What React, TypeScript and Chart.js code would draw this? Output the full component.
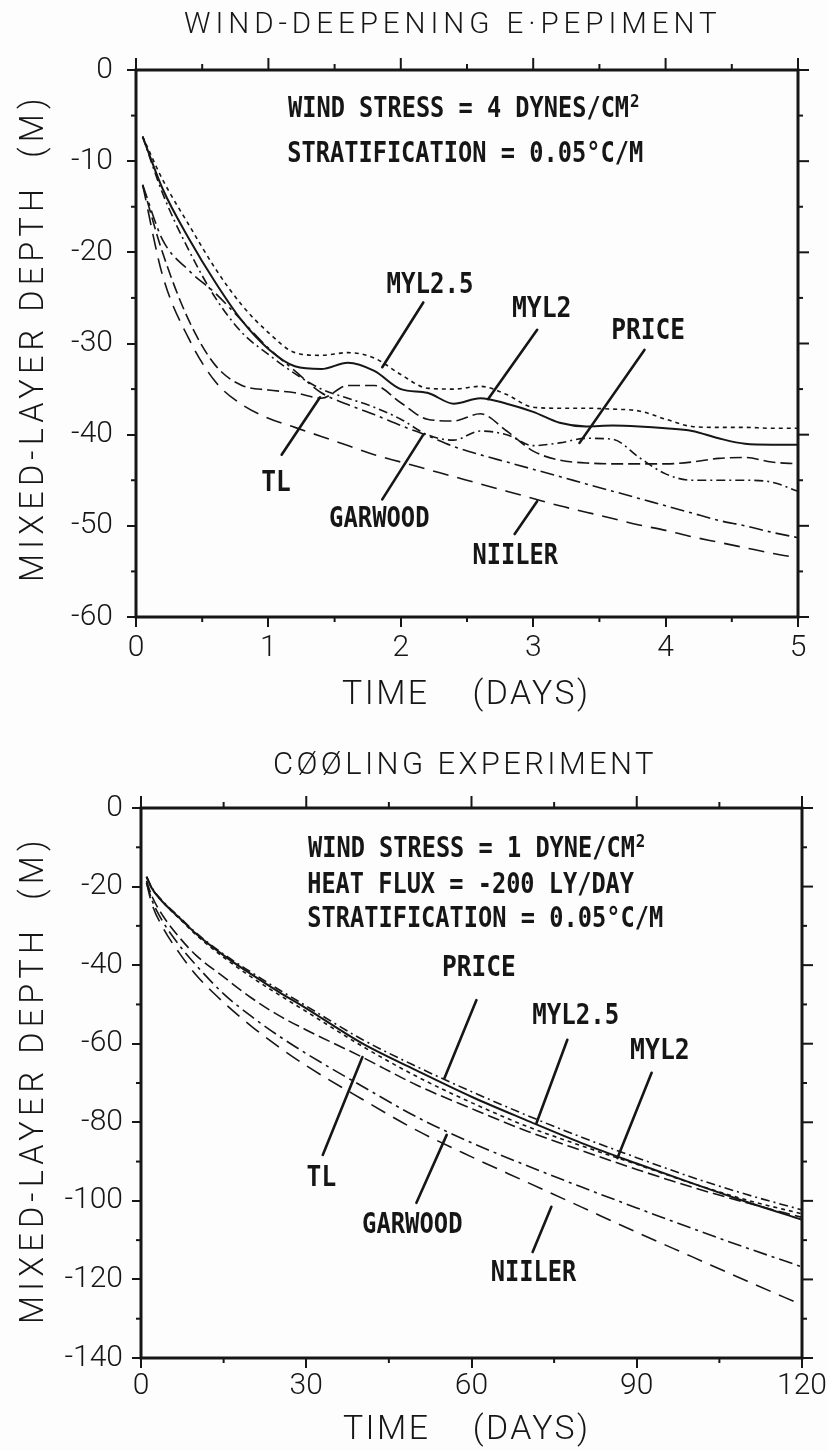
import React, { useEffect, useRef } from 'react';
import { Chart, registerables } from 'chart.js';

Chart.register(...registerables);

// ---------------- DATA: wind-deepening experiment ----------------
const windDays = [0.05, 0.2, 0.4, 0.6, 0.8, 1.0, 1.2, 1.4, 1.6, 1.8, 2.0, 2.2, 2.4, 2.6, 2.8, 3.0, 3.2, 3.4, 3.6, 3.8, 4.0, 4.2, 4.4, 4.6, 4.8, 5.0];
const windMYL25 = [-7.3, -12.0, -17.0, -21.8, -25.8, -28.8, -31.0, -31.3, -31.0, -31.6, -33.4, -34.9, -35.0, -34.7, -35.6, -37.0, -37.1, -37.1, -37.2, -37.4, -38.3, -39.1, -39.2, -39.2, -39.3, -39.3];
const windMYL2 = [-7.3, -13.0, -18.5, -23.3, -27.5, -30.6, -32.5, -32.8, -32.1, -33.0, -35.0, -35.4, -36.6, -36.0, -36.6, -37.5, -38.7, -39.1, -39.0, -39.1, -39.3, -39.6, -40.4, -41.0, -41.1, -41.1];
const windPRICE = [-7.3, -13.5, -19.8, -25.0, -28.8, -31.2, -33.3, -35.0, -36.0, -37.0, -38.3, -40.0, -40.6, -39.6, -40.0, -41.2, -40.9, -40.4, -40.5, -42.5, -44.3, -45.0, -45.0, -45.0, -45.2, -46.2];
const windTL = [-12.6, -20.0, -27.5, -32.4, -34.6, -35.1, -35.4, -36.0, -34.6, -34.6, -36.5, -38.3, -38.5, -37.7, -39.6, -41.8, -42.8, -43.1, -43.2, -43.2, -43.2, -43.0, -42.6, -42.5, -43.0, -43.2];
const windGARWOOD = [-12.6, -18.6, -22.0, -24.5, -27.5, -30.5, -33.0, -35.4, -36.7, -37.8, -39.0, -40.1, -41.3, -42.2, -43.0, -43.8, -44.6, -45.4, -46.2, -47.0, -47.8, -48.6, -49.4, -50.0, -50.7, -51.3];
const windNIILER = [-12.6, -22.5, -29.5, -34.2, -36.7, -38.2, -39.2, -40.2, -41.2, -42.2, -43.0, -43.8, -44.6, -45.4, -46.2, -47.0, -47.8, -48.5, -49.2, -49.9, -50.5, -51.2, -51.8, -52.4, -53.0, -53.5];

const windXTicks = [0, 1, 2, 3, 4, 5];
const windXMinor = [0.5, 1.5, 2.5, 3.5, 4.5];
const windYTicks = [0, -10, -20, -30, -40, -50, -60];
const windYMinor = [-5, -15, -25, -35, -45, -55];

// ---------------- DATA: cooling experiment ----------------
const coolDays = [1, 2, 4, 7, 10, 15, 20, 25, 30, 40, 50, 60, 70, 80, 90, 100, 110, 120];
const coolMYL2 = [-17.5, -20.5, -24.0, -28.0, -32.0, -37.5, -42.3, -46.8, -51.0, -59.8, -66.8, -73.5, -79.5, -85.3, -90.5, -95.5, -100.3, -104.8];
const coolMYL25 = [-17.5, -20.5, -24.0, -28.2, -32.3, -38.0, -43.0, -47.5, -51.8, -60.5, -68.3, -75.0, -81.0, -86.0, -90.7, -95.5, -99.8, -103.3];
const coolPRICE = [-17.5, -20.3, -23.8, -27.8, -31.8, -37.2, -41.8, -46.2, -50.4, -58.8, -65.8, -72.2, -78.2, -83.8, -89.0, -94.0, -98.4, -102.3];
const coolTL = [-18.5, -22.5, -27.5, -33.0, -37.5, -43.0, -48.3, -52.8, -56.5, -63.3, -70.5, -76.5, -82.2, -87.2, -92.0, -96.5, -100.5, -104.2];
const coolGARWOOD = [-19.0, -23.5, -29.0, -35.0, -40.0, -47.3, -53.0, -58.0, -62.5, -70.7, -78.6, -85.2, -91.0, -96.5, -101.8, -107.0, -112.0, -116.8];
const coolNIILER = [-19.0, -24.5, -30.5, -37.0, -42.5, -49.5, -55.5, -60.8, -65.6, -74.0, -82.0, -88.8, -95.2, -101.6, -108.0, -114.2, -120.4, -126.5];

const coolXTicks = [0, 30, 60, 90, 120];
const coolXMinor = [15, 45, 75, 105];
const coolYTicks = [0, -20, -40, -60, -80, -100, -120, -140];
const coolYMinor = [-10, -30, -50, -70, -90, -110, -130];

// ---------------- STYLE ----------------
const INK = '#161616';
const THIN = 'Roboto, "DejaVu Sans", sans-serif';
const BOLD = '"DejaVu Sans Mono", monospace';
const CHAR_W = 14.2;

const lineStyles: Record<string, { dash: number[]; width: number }> = {
  'MYL2': { dash: [], width: 2 },
  'MYL2.5': { dash: [4, 4], width: 1.6 },
  'PRICE': { dash: [9, 4, 2, 4], width: 1.6 },
  'TL': { dash: [12, 5], width: 1.6 },
  'GARWOOD': { dash: [14, 5, 3, 5], width: 1.6 },
  'NIILER': { dash: [16, 9], width: 1.6 },
};

type TextItem = { text: string; left?: number; cx?: number; cy: number; w: number; cap: number; bold?: boolean; rot?: boolean; sup?: string };
type Label = { text: string; x: number; y: number };
type Leader = { from: [number, number]; to: [number, number] };

type Panel = {
  top: number; height: number;
  area: { left: number; top: number; right: number; bottom: number };
  xMin: number; xMax: number; yMin: number; yMax: number;
  xTicks: number[]; xMinor: number[]; yTicks: number[]; yMinor: number[];
  xPad: number; yPad: number;
  days: number[];
  series: { name: string; values: number[] }[];
  texts: TextItem[];
  labels: Label[];
  leaders: Leader[];
};

const windPanel: Panel = {
  top: 0, height: 740,
  area: { left: 136, top: 70, right: 798, bottom: 617 },
  xMin: 0, xMax: 5, yMin: -60, yMax: 0,
  xTicks: windXTicks, xMinor: windXMinor, yTicks: windYTicks, yMinor: windYMinor,
  xPad: 3, yPad: 14,
  days: windDays,
  series: [
    { name: 'MYL2.5', values: windMYL25 },
    { name: 'MYL2', values: windMYL2 },
    { name: 'PRICE', values: windPRICE },
    { name: 'TL', values: windTL },
    { name: 'GARWOOD', values: windGARWOOD },
    { name: 'NIILER', values: windNIILER },
  ],
  texts: [
    { text: 'WIND-DEEPENING E·PEPIMENT', left: 184, cy: 22, w: 532, cap: 21 },
    { text: 'TIME    (DAYS)', left: 342, cy: 692, w: 244, cap: 24 },
    { text: 'MIXED-LAYER DEPTH  (M)', cx: 31, cy: 340, w: 480, cap: 23, rot: true },
    { text: 'WIND STRESS = 4 DYNES/CM', left: 288, cy: 106, w: 24 * CHAR_W, cap: 21, bold: true, sup: '2' },
    { text: 'STRATIFICATION = 0.05°C/M', left: 288, cy: 151, w: 25 * CHAR_W, cap: 21, bold: true },
  ],
  labels: [
    { text: 'MYL2.5', x: 2.22, y: -23.3 },
    { text: 'MYL2', x: 3.06, y: -25.9 },
    { text: 'PRICE', x: 3.87, y: -28.4 },
    { text: 'TL', x: 1.06, y: -45.0 },
    { text: 'GARWOOD', x: 1.84, y: -49.0 },
    { text: 'NIILER', x: 2.87, y: -53.0 },
  ],
  leaders: [
    { from: [2.17, -25.5], to: [1.86, -32.6] },
    { from: [3.03, -28.5], to: [2.66, -36.1] },
    { from: [3.84, -30.7], to: [3.35, -40.9] },
    { from: [1.10, -42.2], to: [1.39, -35.9] },
    { from: [1.86, -47.1], to: [2.17, -40.0] },
    { from: [2.86, -50.9], to: [3.03, -47.3] },
  ],
};

const coolPanel: Panel = {
  top: 740, height: 711,
  area: { left: 141, top: 68, right: 802, bottom: 618 },
  xMin: 0, xMax: 120, yMin: -140, yMax: 0,
  xTicks: coolXTicks, xMinor: coolXMinor, yTicks: coolYTicks, yMinor: coolYMinor,
  xPad: 0, yPad: 9,
  days: coolDays,
  series: [
    { name: 'MYL2.5', values: coolMYL25 },
    { name: 'MYL2', values: coolMYL2 },
    { name: 'PRICE', values: coolPRICE },
    { name: 'TL', values: coolTL },
    { name: 'GARWOOD', values: coolGARWOOD },
    { name: 'NIILER', values: coolNIILER },
  ],
  texts: [
    { text: 'CØØLING EXPERIMENT', left: 275, cy: 23, w: 378, cap: 22 },
    { text: 'TIME    (DAYS)', left: 343, cy: 687, w: 243, cap: 24 },
    { text: 'MIXED-LAYER DEPTH  (M)', cx: 31, cy: 342, w: 480, cap: 23, rot: true },
    { text: 'WIND STRESS = 1 DYNE/CM', left: 308, cy: 106, w: 23 * CHAR_W, cap: 21, bold: true, sup: '2' },
    { text: 'HEAT FLUX = -200 LY/DAY', left: 308, cy: 142, w: 23 * CHAR_W, cap: 21, bold: true },
    { text: 'STRATIFICATION = 0.05°C/M', left: 308, cy: 176, w: 25 * CHAR_W, cap: 21, bold: true },
  ],
  labels: [
    { text: 'PRICE', x: 61.4, y: -40.2 },
    { text: 'MYL2.5', x: 78.9, y: -52.2 },
    { text: 'MYL2', x: 94.1, y: -61.3 },
    { text: 'TL', x: 32.8, y: -93.6 },
    { text: 'GARWOOD', x: 49.3, y: -105.6 },
    { text: 'NIILER', x: 71.4, y: -117.6 },
  ],
  leaders: [
    { from: [60.9, -48.9], to: [55.1, -68.7] },
    { from: [77.4, -59.0], to: [71.8, -80.2] },
    { from: [92.7, -67.4], to: [86.5, -89.1] },
    { from: [33.0, -88.3], to: [40.2, -63.4] },
    { from: [50.0, -100.5], to: [55.5, -83.2] },
    { from: [71.1, -113.0], to: [74.5, -101.5] },
  ],
};

// ---------------- DRAWING HELPERS ----------------
function drawText(ctx: CanvasRenderingContext2D, t: TextItem) {
  const weight = t.bold ? 'bold' : '300';
  const family = t.bold ? BOLD : THIN;
  ctx.save();
  ctx.font = `${weight} 100px ${family}`;
  const capR = ctx.measureText('H').actualBoundingBoxAscent / 100;
  const size = t.cap / capR;
  ctx.font = `${weight} ${size}px ${family}`;
  ctx.textAlign = 'left';
  ctx.textBaseline = 'alphabetic';
  ctx.fillStyle = INK;
  const m = ctx.measureText(t.text);
  const ink = m.actualBoundingBoxLeft + m.actualBoundingBoxRight;
  const n = t.text.length;
  let left: number;
  let base: number;
  if (t.rot) {
    ctx.translate(t.cx as number, t.cy);
    ctx.rotate(-Math.PI / 2);
    left = -t.w / 2;
    base = t.cap / 2;
  } else {
    left = t.left !== undefined ? t.left : (t.cx as number) - t.w / 2;
    base = t.cy + t.cap / 2;
  }
  const ls = (t.w - ink) / Math.max(1, n - 1);
  if (!t.bold && ls >= 0) {
    (ctx as any).letterSpacing = `${ls}px`;
    ctx.fillText(t.text, left + m.actualBoundingBoxLeft, base);
  } else {
    const sx = t.w / ink;
    ctx.translate(left, base);
    ctx.scale(sx, 1);
    ctx.fillText(t.text, m.actualBoundingBoxLeft, 0);
  }
  ctx.restore();
  if (t.sup && !t.rot) {
    const supLeft = (t.left as number) + t.w + 2;
    drawText(ctx, { text: t.sup, left: supLeft, cy: t.cy - t.cap / 2 + 5, w: 8, cap: 13, bold: true });
  }
}

function makeDecor(p: Panel) {
  return {
    id: 'decor',
    afterDraw(chart: any) {
      const ctx: CanvasRenderingContext2D = chart.ctx;
      const a = chart.chartArea;
      const X = chart.scales.x;
      const Y = chart.scales.y;
      const seg = (x1: number, y1: number, x2: number, y2: number) => {
        ctx.beginPath();
        ctx.moveTo(x1, y1);
        ctx.lineTo(x2, y2);
        ctx.stroke();
      };
      ctx.save();
      ctx.strokeStyle = INK;
      ctx.lineCap = 'butt';
      ctx.lineWidth = 2;
      p.xMinor.forEach((v) => {
        const px = X.getPixelForValue(v);
        seg(px, a.bottom, px, a.bottom + 5);
        seg(px, a.top, px, a.top - 6);
      });
      p.xTicks.forEach((v) => {
        const px = X.getPixelForValue(v);
        seg(px, a.top, px, a.top - 12);
      });
      p.yMinor.forEach((v) => {
        const py = Y.getPixelForValue(v);
        seg(a.left, py, a.left - 5, py);
        seg(a.right, py, a.right + 5, py);
      });
      p.yTicks.forEach((v) => {
        const py = Y.getPixelForValue(v);
        seg(a.right, py, a.right + 11, py);
      });
      ctx.lineWidth = 3;
      ctx.strokeRect(a.left, a.top, a.right - a.left, a.bottom - a.top);
      ctx.lineWidth = 2.6;
      ctx.lineCap = 'round';
      p.leaders.forEach((l) => {
        seg(X.getPixelForValue(l.from[0]), Y.getPixelForValue(l.from[1]), X.getPixelForValue(l.to[0]), Y.getPixelForValue(l.to[1]));
      });
      ctx.restore();
      p.texts.forEach((t) => drawText(ctx, t));
      p.labels.forEach((l) => {
        drawText(ctx, { text: l.text, cx: X.getPixelForValue(l.x), cy: Y.getPixelForValue(l.y), w: l.text.length * CHAR_W, cap: 21, bold: true });
      });
    },
  };
}

function buildConfig(p: Panel): any {
  const datasets = p.series.map((s) => ({
    label: s.name,
    data: p.days.map((d, i) => ({ x: d, y: s.values[i] })),
    borderColor: INK,
    borderWidth: lineStyles[s.name].width,
    borderDash: lineStyles[s.name].dash,
    pointRadius: 0,
    fill: false,
    cubicInterpolationMode: 'monotone',
  }));
  const tickFont = { family: THIN, size: 30, weight: '300' };
  return {
    type: 'line',
    data: { datasets },
    options: {
      responsive: false,
      animation: false,
      devicePixelRatio: 1,
      events: [],
      layout: { padding: { left: 0, top: p.area.top, right: 828 - p.area.right, bottom: 0 } },
      plugins: { legend: { display: false }, tooltip: { enabled: false }, title: { display: false } },
      scales: {
        x: {
          type: 'linear',
          position: 'bottom',
          min: p.xMin,
          max: p.xMax,
          afterBuildTicks: (s: any) => { s.ticks = p.xTicks.map((v) => ({ value: v })); },
          ticks: { font: tickFont, color: INK, padding: p.xPad, maxRotation: 0, autoSkip: false, callback: (v: any) => String(v) },
          grid: { display: true, drawOnChartArea: false, drawTicks: true, tickLength: 10, color: INK, lineWidth: 2 },
          border: { display: false },
          afterFit: (s: any) => { s.height = p.height - p.area.bottom; },
        },
        y: {
          type: 'linear',
          position: 'left',
          min: p.yMin,
          max: p.yMax,
          afterBuildTicks: (s: any) => { s.ticks = p.yTicks.map((v) => ({ value: v })); },
          ticks: { font: tickFont, color: INK, padding: p.yPad, autoSkip: false, callback: (v: any) => String(v) },
          grid: { display: true, drawOnChartArea: false, drawTicks: true, tickLength: 9, color: INK, lineWidth: 2 },
          border: { display: false },
          afterFit: (s: any) => { s.width = p.area.left; },
        },
      },
    },
    plugins: [makeDecor(p)],
  };
}

function PanelChart({ spec }: { spec: Panel }) {
  const ref = useRef<HTMLCanvasElement>(null);
  useEffect(() => {
    const chart = new Chart(ref.current as HTMLCanvasElement, buildConfig(spec));
    return () => chart.destroy();
  }, [spec]);
  return (
    <canvas
      ref={ref}
      width={828}
      height={spec.height}
      style={{ position: 'absolute', left: 0, top: spec.top, width: 828, height: spec.height, display: 'block' }}
    />
  );
}

export default function App() {
  return (
    <div style={{ position: 'absolute', left: 0, top: 0, width: 828, height: 1451, background: '#fdfdfd', overflow: 'hidden' }}>
      <PanelChart spec={windPanel} />
      <PanelChart spec={coolPanel} />
    </div>
  );
}
